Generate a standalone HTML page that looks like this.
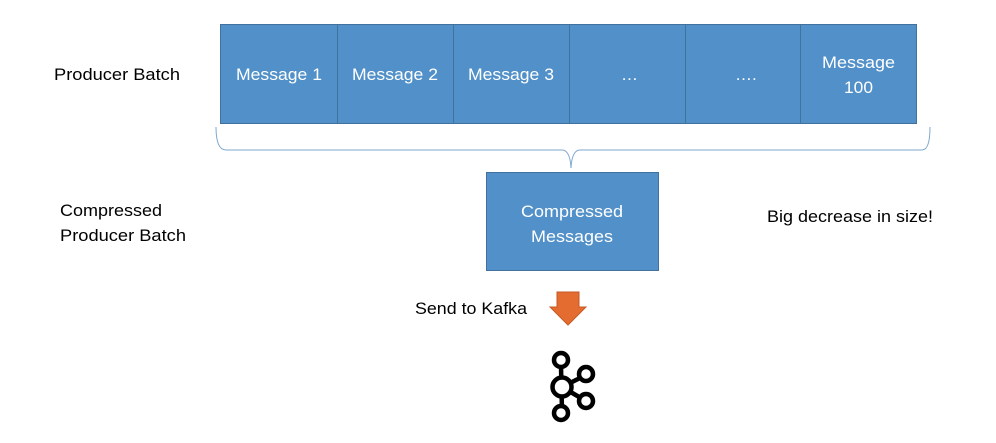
<!DOCTYPE html>
<html><head><style>
body{margin:0;width:996px;height:438px;background:#fff;overflow:hidden;font-family:"Liberation Sans",sans-serif;}
</style></head><body>
<svg width="996" height="438" xmlns="http://www.w3.org/2000/svg" font-family="Liberation Sans, sans-serif">
<g fill="#5190c8" stroke="#41719c" stroke-width="1">
<rect x="220.5" y="24.5" width="117" height="99"/>
<rect x="337.5" y="24.5" width="116" height="99"/>
<rect x="453.5" y="24.5" width="116" height="99"/>
<rect x="569.5" y="24.5" width="116" height="99"/>
<rect x="685.5" y="24.5" width="115" height="99"/>
<rect x="800.5" y="24.5" width="116" height="99"/>
<rect x="486.5" y="172.5" width="172" height="98"/>
</g>
<g fill="#fff" font-size="17" lengthAdjust="spacingAndGlyphs">
<text x="236" y="80" textLength="86" lengthAdjust="spacingAndGlyphs">Message 1</text>
<text x="352" y="80" textLength="86" lengthAdjust="spacingAndGlyphs">Message 2</text>
<text x="468" y="80" textLength="86" lengthAdjust="spacingAndGlyphs">Message 3</text>
<text x="621" y="80">…</text>
<text x="735" y="80">….</text>
<text x="822" y="68" textLength="73" lengthAdjust="spacingAndGlyphs">Message</text>
<text x="844" y="93" textLength="29" lengthAdjust="spacingAndGlyphs">100</text>
<text x="521" y="217" textLength="102" lengthAdjust="spacingAndGlyphs">Compressed</text>
<text x="531" y="242" textLength="82" lengthAdjust="spacingAndGlyphs">Messages</text>
</g>
<path d="M216 127 Q216 150 226 150 L562 150 Q570 150 571 168 Q572 150 580 150 L922 150 Q930 150 930 127" fill="none" stroke="#7fa7cf" stroke-width="1"/>
<g fill="#000" font-size="17">
<text x="54" y="80" textLength="126" lengthAdjust="spacingAndGlyphs">Producer Batch</text>
<text x="60" y="216" textLength="102" lengthAdjust="spacingAndGlyphs">Compressed</text>
<text x="60" y="241" textLength="126" lengthAdjust="spacingAndGlyphs">Producer Batch</text>
<text x="767" y="222" textLength="166" lengthAdjust="spacingAndGlyphs">Big decrease in size!</text>
<text x="415" y="314" textLength="112" lengthAdjust="spacingAndGlyphs">Send to Kafka</text>
</g>
<path d="M557 292 L579 292 L579 307 L586 307 L568 325 L550 307 L557 307 Z" fill="#e46c30" stroke="#c55a24" stroke-width="1"/>
<g fill="none" stroke="#000" stroke-width="4.5">
<line x1="561" y1="366" x2="562" y2="412"/>
<line x1="562" y1="387" x2="586" y2="375"/>
<line x1="562" y1="387" x2="586" y2="401"/>
<circle cx="561" cy="360" r="7" fill="#fff"/>
<circle cx="562" cy="387" r="9.5" fill="#fff"/>
<circle cx="586" cy="374" r="7" fill="#fff"/>
<circle cx="586" cy="401" r="7" fill="#fff"/>
<circle cx="561" cy="413" r="7" fill="#fff"/>
</g>
</svg>
</body></html>
